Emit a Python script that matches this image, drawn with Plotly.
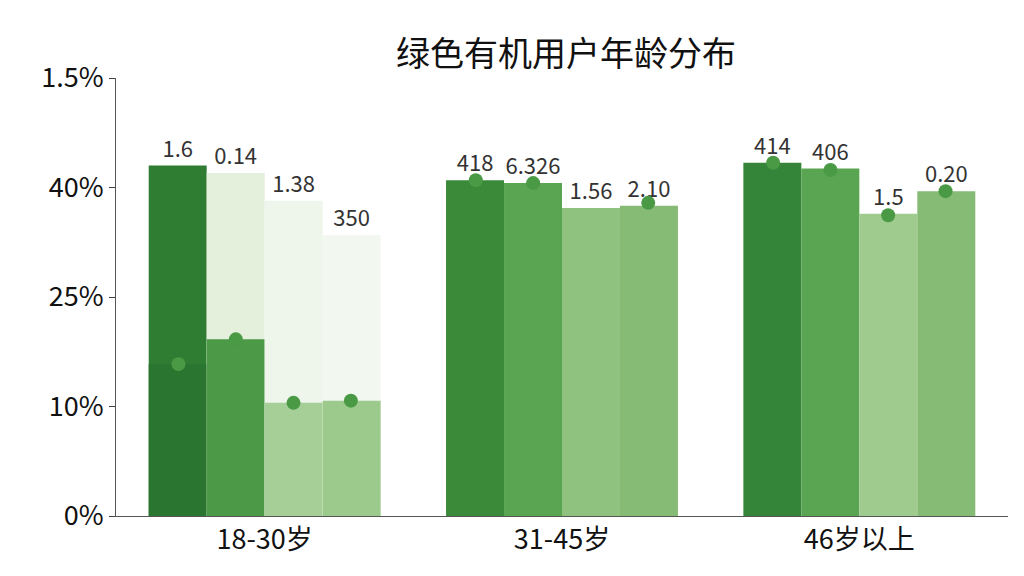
import plotly.graph_objects as go

categories = ["18-30岁", "31-45岁", "46岁以上"]
series = ["系列1", "系列2", "系列3", "系列4"]
# values on the chart's own tick scale (ticks spaced evenly, labelled 0%,10%,25%,40%,1.5%)
full_vals = [[48.0, 47.0, 43.2, 38.5],
             [46.0, 45.6, 42.2, 42.5],
             [48.4, 47.6, 41.4, 44.5]]
lower_vals = [[20.8, 24.2, 15.5, 15.8],
              [0, 0, 0, 0],
              [0, 0, 0, 0]]
marker_vals = [[20.8, 24.2, 15.5, 15.8],
               [46.0, 45.6, None, 42.9],
               [48.4, 47.4, 41.2, 44.5]]
top_labels = [["1.6", "0.14", "1.38", "350"],
              ["418", "6.326", "1.56", "2.10"],
              ["414", "406", "1.5", "0.20"]]
tick_vals = [0, 15, 30, 45, 60]
tick_text = ["0%", "10%", "25%", "40%", "1.5%"]

full_colors = [["#2f7d32", "#e4efdc", "#eef5ea", "#f2f7ef"],
               ["#3a8a3a", "#5aa552", "#8fc27f", "#86bb76"],
               ["#34843a", "#5aa552", "#9fcb8f", "#86bb76"]]
lower_colors = ["#2a7530", "#4c9a48", "#a6cf97", "#9cc98c"]

fig = go.Figure()
for j in range(4):
    fig.add_trace(go.Bar(
        x=categories, y=[full_vals[i][j] for i in range(3)],
        offsetgroup=str(j), name=series[j],
        marker=dict(color=[full_colors[i][j] for i in range(3)], line=dict(width=0)),
        text=[top_labels[i][j] for i in range(3)], textposition="outside",
        textfont=dict(size=22, color="#333"), cliponaxis=False,
    ))
    fig.add_trace(go.Bar(
        x=categories, y=[lower_vals[i][j] for i in range(3)],
        offsetgroup=str(j), showlegend=False,
        marker=dict(color=lower_colors[j], line=dict(width=0)),
    ))

# markers at bar centres
offsets = [-0.29, -0.097, 0.097, 0.29]
for j in range(4):
    fig.add_trace(go.Scatter(
        x=[k + offsets[j] for k in range(3)], y=[marker_vals[i][j] for i in range(3)],
        xaxis="x2", mode="markers", showlegend=False,
        marker=dict(size=14, color="#4a9a45"),
    ))

fig.update_layout(
    title=dict(text="绿色有机用户年龄分布", x=0.545, y=0.94, font=dict(size=34, color="#111")),
    font=dict(family="Noto Sans CJK SC"),
    barmode="group", bargap=0.22, bargroupgap=0,
    width=1024, height=576, margin=dict(l=108, r=24, t=70, b=68),
    plot_bgcolor="white", paper_bgcolor="white", showlegend=False,
    yaxis=dict(range=[0, 60], tickvals=tick_vals, ticktext=tick_text,
               tickfont=dict(size=27, color="#111"), showgrid=False,
               showline=True, linecolor="#555", ticks="outside", ticklen=6),
    xaxis=dict(tickfont=dict(size=27, color="#111"), showline=True, linecolor="#555"),
    xaxis2=dict(range=[-0.5, 2.5], overlaying="x", visible=False),
)
fig.write_html("out.html")
